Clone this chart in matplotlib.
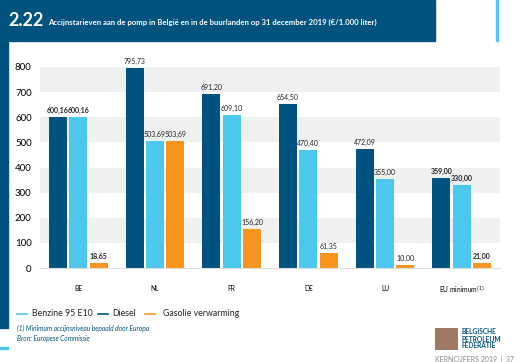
import numpy as np
import matplotlib.pyplot as plt
from matplotlib.patches import Rectangle

# data
categories = ["BE", "NL", "FR", "DE", "LU", "EU minimum$^{(1)}$"]
diesel = [600.16, 795.73, 691.20, 654.50, 472.09, 359.00]
benzine = [600.16, 503.69, 609.10, 470.40, 355.00, 330.00]
gasolie = [18.65, 503.69, 156.20, 61.35, 10.00, 21.00]
bold_groups = [0, 5]

DARK = "#00527f"
LIGHT = "#4cc8ee"
ORANGE = "#f7941d"
BAND = "#eff0f0"

plt.rcParams['font.family'] = ['Lato', 'DejaVu Sans']

fig = plt.figure(figsize=(5.22, 3.62), dpi=100)
W, H = 522, 362

def px(x, y, w, h):
    return [x / W, 1 - (y + h) / H, w / W, h / H]

# header band and decorations
fig.patches.append(Rectangle((0, 1 - 41 / H), 435 / W, 41 / H, transform=fig.transFigure, color=DARK, zorder=0))
fig.patches.append(Rectangle((496 / W, 1 - 41 / H), 2 / W, 41 / H, transform=fig.transFigure, color=LIGHT, zorder=0))
fig.patches.append(Rectangle((0, 1 - 328 / H), 8 / W, 287 / H, transform=fig.transFigure, color=DARK, zorder=0))
fig.patches.append(Rectangle((0, 1 - 349 / H), 8 / W, 2 / H, transform=fig.transFigure, color=LIGHT, zorder=0))

fig.text(8 / W, 1 - 21 / H, "2.22", color="white", fontsize=13, fontweight="bold", va="center")
fig.text(48 / W, 1 - 22 / H, "Accijnstarieven aan de pomp in België en in de buurlanden op 31 december 2019 (€/1.000 liter)",
         color="white", fontsize=5.6, fontweight="bold", va="center")

ax = fig.add_axes(px(40, 67, 460, 201))
x = np.arange(len(categories))
bw = 0.235
gap = 0.265
series = [(diesel, DARK), (benzine, LIGHT), (gasolie, ORANGE)]
for k, (vals, col) in enumerate(series):
    pos = x + (k - 1) * gap
    ax.bar(pos, vals, bw, color=col, zorder=2)
    for i, (p, v) in enumerate(zip(pos, vals)):
        lbl = f"{v:.2f}".replace(".", ",")
        ax.text(p, v + 12, lbl, ha="center", va="bottom", fontsize=5.0,
                fontweight="bold" if i in bold_groups else "normal",
                color="#222222", clip_on=False)

for lo in [100, 300, 500, 700]:
    ax.axhspan(lo, lo + 100, color=BAND, zorder=0, lw=0)

ax.set_xlim(-0.5, len(categories) - 0.5)
ax.set_ylim(0, 800)
ax.set_yticks(range(0, 801, 100))
ax.tick_params(axis="y", length=0, labelsize=7, pad=6)
ax.set_xticks(x)
ax.set_xticklabels(categories, fontsize=4.8)
ax.tick_params(axis="x", length=0, pad=12)
for s in ["top", "right", "left"]:
    ax.spines[s].set_visible(False)
ax.spines["bottom"].set_color("#dddddd")
ax.spines["bottom"].set_linewidth(0.8)

# legend
ly = 314
items = [("Benzine 95 E10", LIGHT, 17, 32), ("Diesel", DARK, 98, 112), ("Gasolie verwarming", ORANGE, 145, 163)]
for name, col, lx, tx in items:
    fig.add_artist(plt.Line2D([lx / W, (lx + 10) / W], [1 - ly / H] * 2, color=col, lw=1.2, transform=fig.transFigure))
    fig.text(tx / W, 1 - ly / H, name, fontsize=6.3, va="center", color="#222222")

fig.text(17 / W, 1 - 328 / H, "(1) Minimum accijnsniveau bepaald door Europa", fontsize=4.8,
         style="italic", color=DARK, va="center")
fig.text(17 / W, 1 - 338 / H, "Bron: Europese Commissie", fontsize=4.8,
         style="italic", color=DARK, va="center")

# logo approximation
fig.patches.append(Rectangle((435 / W, 1 - 350 / H), 23 / W, 22 / H, transform=fig.transFigure,
                             facecolor="#9c7a66", edgecolor="none", zorder=0))
fig.text(462 / W, 1 - 339 / H, "BELGISCHE\nPETROLEUM\nFEDERATIE", fontsize=4.8, fontweight="bold",
         color=DARK, va="center", linespacing=1.0)
fig.text(435 / W, 1 - 359 / H, "KERNCIJFERS 2019  |  37", fontsize=5, color="#888888", va="center")

fig.savefig("out.png", dpi=100)
